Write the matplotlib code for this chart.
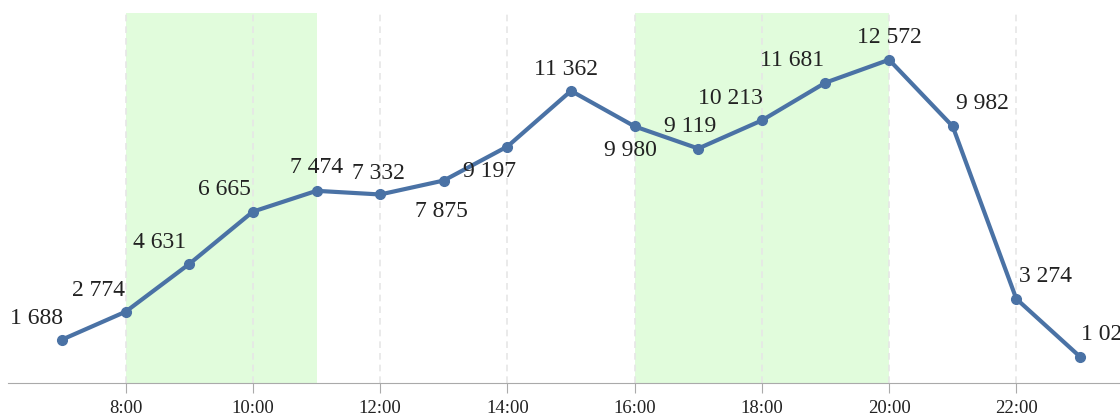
import numpy as np
import matplotlib.pyplot as plt

hours = [7, 8, 9, 10, 11, 12, 13, 14, 15, 16, 17, 18, 19, 20, 21, 22, 23]
values = [1688, 2774, 4631, 6665, 7474, 7332, 7875, 9197, 11362, 9980,
          9119, 10213, 11681, 12572, 9982, 3274, 1025]
shaded = [(8, 11), (16, 20)]
tick_hours = [8, 10, 12, 14, 16, 18, 20, 22]

# label offsets in pixels (dx, dy) picked to follow the original layout
label_off = [(-26, 21), (-27, 21), (-30, 21), (-28, 22), (0, 23), (-2, 21),
             (-2, -31), (-18, -25), (-5, 21), (-4, -24), (-8, 22), (-31, 22),
             (-33, 22), (0, 22), (30, 23), (29, 22), (28, 22)]

fig = plt.figure(figsize=(11.2, 4.18), dpi=100)
ax = fig.add_axes([8 / 1120, 35 / 418, 1112 / 1120, 370 / 418])

for a, b in shaded:
    ax.axvspan(a, b, color='#e1fcdc', lw=0, zorder=0)
for h in tick_hours:
    ax.axvline(h, color='#e6e6e6', lw=1.2, ls=(0, (4, 3)), zorder=1)

ax.plot(hours, values, color='#4a72a5', lw=3, marker='o', ms=7, zorder=3)

for h, v, (dx, dy) in zip(hours, values, label_off):
    txt = f'{v:,}'.replace(',', ' ')
    ax.annotate(txt, (h, v), xytext=(dx * 0.72, dy * 0.72), textcoords='offset points',
                ha='center', va='center', fontsize=17, family='Liberation Serif',
                color='#222222', annotation_clip=False, zorder=4)

ax.set_xlim(6.15, 23.63)
ax.set_ylim(0, 14390)
ax.set_xticks(tick_hours)
ax.set_xticklabels([f'{h}:00' for h in tick_hours], family='Liberation Serif', fontsize=13.5)
ax.set_yticks([])
for s in ['top', 'right', 'left']:
    ax.spines[s].set_visible(False)
ax.spines['bottom'].set_color('#aaaaaa')
ax.tick_params(axis='x', length=7, color='#aaaaaa', pad=5, labelcolor='#222222')

fig.savefig('out.png', dpi=100)
